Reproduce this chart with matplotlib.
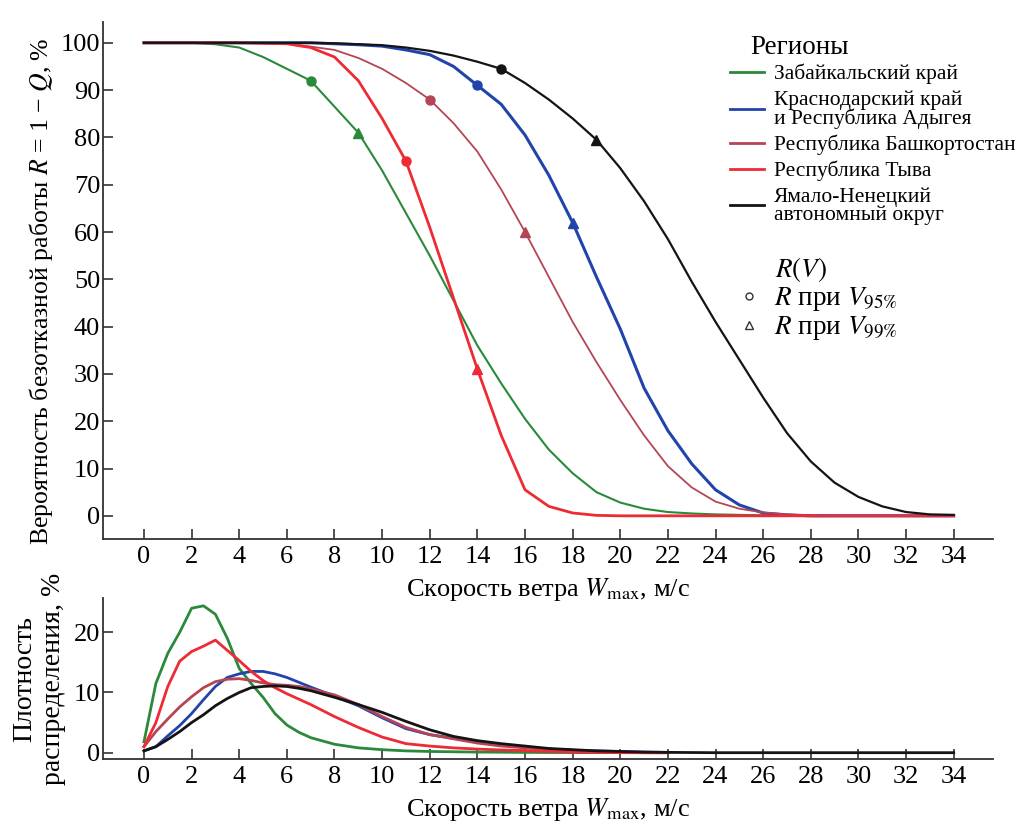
import matplotlib
matplotlib.use('Agg')
import matplotlib.pyplot as plt
from matplotlib.lines import Line2D

plt.rcParams['font.family'] = ['Liberation Serif', 'DejaVu Serif']
plt.rcParams['mathtext.fontset'] = 'stix'

# ---- data ----
regions = ['Забайкальский край',
           'Краснодарский край\nи Республика Адыгея',
           'Республика Башкортостан',
           'Республика Тыва',
           'Ямало-Ненецкий\nавтономный округ']
colors = ['#2a8a3a', '#2244aa', '#b54555', '#ee2a35', '#141414']
lw_top = [1.5, 2.2, 1.3, 2.0, 1.6]

# reliability R(V), % at V = 0..34 m/s
v_grid = list(range(35))
R_green = [100, 100, 100, 99.7, 99, 97, 94.5, 92, 86.5, 81, 73, 64, 55, 45.5, 36, 28,
           20.5, 14, 9, 5, 2.8, 1.5, 0.8, 0.5, 0.3, 0.2, 0.1, 0.05, 0, 0, 0, 0, 0, 0, 0]
R_blue = [100, 100, 100, 100, 100, 100, 100, 100, 99.8, 99.6, 99.3, 98.5, 97.5, 95, 91, 87,
          80.5, 72, 62, 50.5, 39.5, 27, 18, 11, 5.5, 2.3, 0.6, 0.2, 0, 0, 0, 0, 0, 0, 0]
R_brown = [100, 100, 100, 100, 100, 99.9, 99.8, 99.2, 98.5, 96.8, 94.5, 91.5, 88, 83, 77, 69,
           60, 50.5, 41, 32.5, 24.5, 17, 10.5, 6, 3, 1.5, 0.7, 0.3, 0.1, 0, 0, 0, 0, 0, 0]
R_red = [100, 100, 100, 100, 100, 99.9, 99.8, 99, 97, 92, 84, 75, 61, 46, 31, 17,
         5.5, 2, 0.6, 0.1, 0, 0, 0, 0, 0, 0, 0, 0, 0, 0, 0, 0, 0, 0, 0]
R_black = [100, 100, 100, 100, 100, 100, 100, 100, 99.9, 99.7, 99.5, 99, 98.3, 97.3, 96, 94.5,
           91.5, 88, 84, 79.5, 73.5, 66.5, 58.5, 49.5, 41, 33, 25, 17.5, 11.5, 7, 4, 2,
           0.8, 0.3, 0.2]
R_all = [R_green, R_blue, R_brown, R_red, R_black]

# R at V95% and V99%
v95 = [7, 14, 12, 11, 15]
r95 = [92, 91, 88, 75, 94.5]
v99 = [9, 18, 16, 14, 19]
r99 = [81, 62, 60, 31, 79.5]

# probability density, %
d_x = [0, 0.5, 1, 1.5, 2, 2.5, 3, 3.5, 4, 4.5, 5, 5.5, 6, 6.5, 7, 8, 9, 10, 11, 12, 13, 14,
       15, 16, 17, 18, 19, 20, 21, 22]
d_green = [1.8, 11.5, 16.5, 20, 24, 24.4, 23, 19, 14, 11.5, 9.2, 6.5, 4.6, 3.4, 2.5, 1.4, 0.8,
           0.5, 0.3, 0.2, 0.15, 0.1, 0.08, 0.05, 0.03, 0.02, 0.01, 0.01, 0, 0]
d_blue = [0.3, 1, 2.8, 4.5, 6.5, 8.8, 11, 12.5, 13.1, 13.5, 13.5, 13.1, 12.5, 11.7, 10.9, 9.4,
          7.8, 5.8, 4.0, 3.0, 2.4, 1.8, 1.3, 0.9, 0.6, 0.4, 0.3, 0.2, 0.1, 0.05]
d_brown = [1.0, 3.5, 5.6, 7.6, 9.3, 10.8, 11.8, 12.2, 12.3, 12, 11.6, 11.3, 11.2, 11, 10.6,
           9.6, 8.0, 6.0, 4.2, 3.0, 2.3, 1.6, 1.1, 0.8, 0.5, 0.3, 0.15, 0.05, 0, 0]
d_red = [1.0, 5, 11, 15.2, 16.8, 17.7, 18.7, 17, 15.3, 13.5, 12, 10.8, 9.8, 8.9, 8, 6, 4.2,
         2.6, 1.5, 1.1, 0.8, 0.6, 0.45, 0.35, 0.2, 0.1, 0.05, 0, 0, 0]
d_black = [0.3, 1, 2.2, 3.5, 5, 6.3, 7.8, 9, 10, 10.8, 11, 11.1, 11, 10.7, 10.3, 9.2, 8.0,
           6.7, 5.2, 3.8, 2.7, 2.0, 1.5, 1.1, 0.7, 0.5, 0.3, 0.2, 0.1, 0.05]
black_tail_x = [24, 34]
black_tail_y = [0, 0]
d_all = [d_green, d_blue, d_brown, d_red, d_black]

x_ticks = list(range(0, 35, 2))
xlabel = 'Скорость ветра $W_{\\mathrm{max}}$, м/с'

#------------------------------------------------------#

W, H = 1026., 825.
fig = plt.figure(figsize=(W / 100, H / 100), dpi=100)
ax1 = fig.add_axes([103 / W, 1 - 539 / H, 890 / W, (539 - 22) / H])
ax2 = fig.add_axes([103 / W, 1 - 759 / H, 890 / W, (759 - 598) / H])

ticksize = 19
labelsize = 19

for ax in (ax1, ax2):
    ax.set_facecolor('none')
    for s in ('top', 'right'):
        ax.spines[s].set_visible(False)
    for s in ('left', 'bottom'):
        ax.spines[s].set_linewidth(1.3)
        ax.spines[s].set_color('#333333')
    ax.set_xlim(-1.72, 35.65)
    ax.set_xticks(x_ticks)
    ax.tick_params(direction='in', length=7, width=1.2, color='#333333',
                   labelsize=ticksize)
    ax.tick_params(axis='x', pad=5)
    ax.tick_params(axis='y', pad=2)

ax1.set_xlabel(xlabel, fontsize=labelsize, labelpad=6)
ax2.set_xlabel(xlabel, fontsize=labelsize, labelpad=6)

# --- top: reliability
for i in range(len(regions)):
    ax1.plot(v_grid, R_all[i], color=colors[i], lw=lw_top[i])
    ax1.plot(v95[i], r95[i], 'o', color=colors[i], ms=6.5)
    ax1.plot(v99[i], r99[i], '^', color=colors[i], ms=7.5)

ax1.set_ylim(-4.9, 104.4)
ax1.set_yticks(range(0, 101, 10))
ax1.set_ylabel('Вероятность безотказной работы $R$ = 1 − $Q$, %',
               fontsize=18.5, labelpad=4)
ax1.yaxis.label.set_y(0.48)

# legend of regions
handles = [Line2D([], [], color=c, lw=2) for c in colors]
leg1 = fig.legend(handles, regions, loc='upper left',
                  bbox_to_anchor=(730 / W, 1 - 64 / H), frameon=False, fontsize=15.5,
                  handlelength=1.6, handletextpad=0.45, labelspacing=0.27,
                  borderpad=0, borderaxespad=0)
for t in leg1.get_texts():
    t.set_linespacing(0.9)
fig.text(750 / W, 1 - 48 / H, 'Регионы', fontsize=19.5, va='center', ha='left')

# legend of markers
mk = [Line2D([], [], ls='none', marker='o', mfc='none', mec='#333333', ms=5),
      Line2D([], [], ls='none', marker='^', mfc='none', mec='#333333', ms=6)]
fig.legend(mk, ['$R$ при $V_{95\\%}$', '$R$ при $V_{99\\%}$'],
           loc='upper left', bbox_to_anchor=(735 / W, 1 - 285 / H), frameon=False,
           fontsize=19.5, handlelength=1.0, handletextpad=0.45, labelspacing=0.05,
           borderpad=0, borderaxespad=0)
fig.text(775 / W, 1 - 270 / H, '$R(V)$', fontsize=19.5, va='center', ha='left')

# --- bottom: density
for i in range(len(regions) - 1):
    ax2.plot(d_x, d_all[i], color=colors[i], lw=2)
ax2.plot(d_x + black_tail_x, d_black + black_tail_y, color=colors[4], lw=2)
ax2.set_ylim(-1.05, 25.7)
ax2.set_yticks([0, 10, 20])
ax2.set_ylabel('Плотность\nраспределения, %', fontsize=20, labelpad=6,
               linespacing=1.15)

fig.savefig('out.png', dpi=100)
